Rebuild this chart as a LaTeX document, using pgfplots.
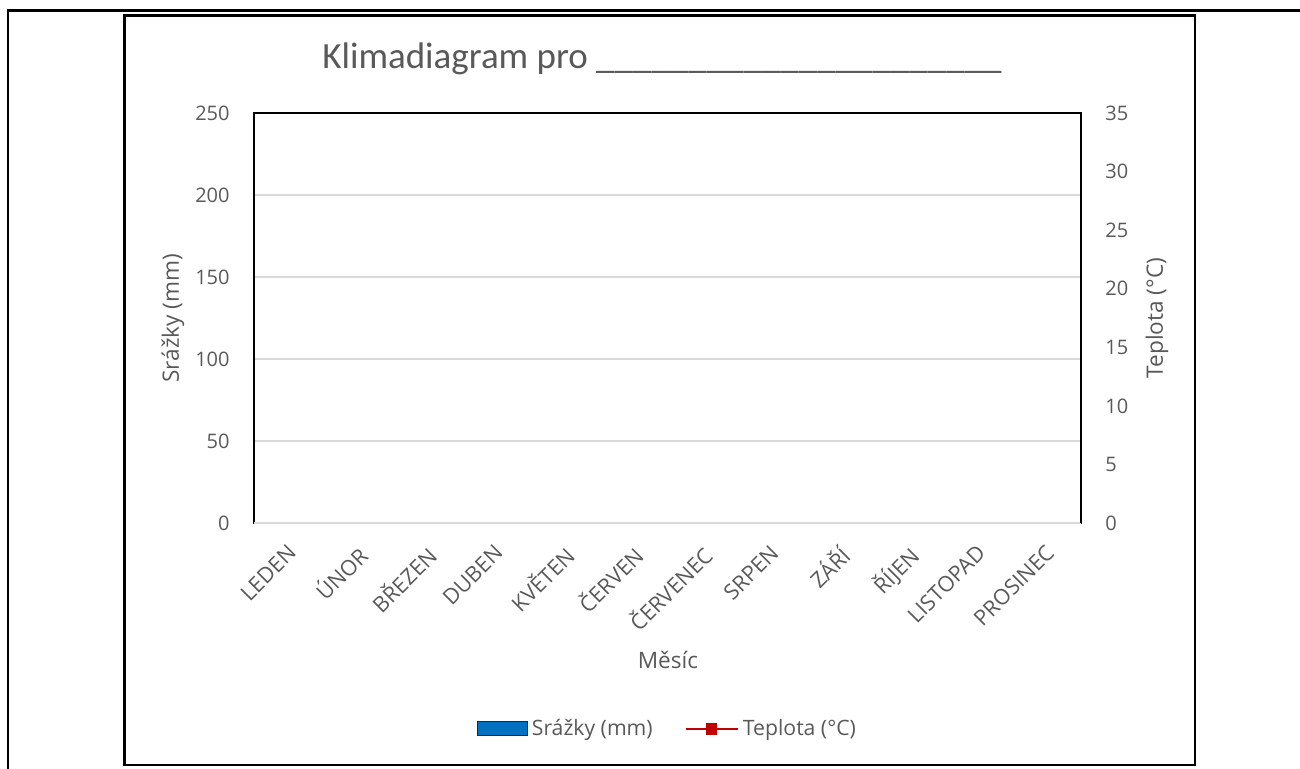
\documentclass[border=0pt]{standalone}
\usepackage{pgfplots}
\pgfplotsset{compat=1.18}
\usepackage{fontspec}
\setmainfont{Open Sans}
\newfontfamily\titlefont{Carlito}
\definecolor{txt}{HTML}{595959}
\definecolor{gridc}{HTML}{D9D9D9}
\definecolor{barc}{HTML}{0070C0}
\definecolor{linec}{HTML}{C00000}
\begin{document}
\begin{tikzpicture}[x=0.5pt,y=-0.5pt]
\path[use as bounding box] (0,0) rectangle (1300,769);
\coordinate (O) at (254,523);
\draw[line width=1.4pt] (8,769) -- (8,10.5) -- (1300,10.5);
\draw[line width=1.1pt] (124.5,15.5) rectangle (1195,765);
\node[anchor=base, text=txt, font=\titlefont\fontsize{18.5pt}{20pt}\selectfont, inner sep=0pt] at (662,69)
  {Klimadiagram pro \_\_\_\_\_\_\_\_\_\_\_\_\_\_\_\_\_\_\_\_\_\_};
\begin{axis}[
  at={(O)}, anchor=south west, scale only axis,
  width=413.5pt, height=205pt,
  xmin=-0.5, xmax=11.5, ymin=0, ymax=250,
  xtick={0,...,11},
  xticklabels={LEDEN,ÚNOR,BŘEZEN,DUBEN,KVĚTEN,ČERVEN,ČERVENEC,SRPEN,ZÁŘÍ,ŘÍJEN,LISTOPAD,PROSINEC},
  ytick={0,50,...,250},
  major tick length=0pt,
  ymajorgrids, grid style={gridc, line width=0.6pt},
  axis line style={black, line width=0.9pt},
  yticklabel style={font=\fontsize{10pt}{12pt}\selectfont, text=txt, anchor=east, inner sep=0pt, xshift=-12pt},
  /pgf/number format/assume math mode=true,
  xticklabel style={font=\fontsize{10.8pt}{12pt}\selectfont, text=txt, yshift=-10pt, xshift=-1pt, rotate=45, anchor=north east, inner sep=0pt},
  label style={font=\fontsize{11.3pt}{13pt}\selectfont, text=txt},
  ylabel={Srážky (mm)},
  ylabel style={at={(axis description cs:-0.098,0.5)}, anchor=center},
  xlabel={Měsíc},
  xlabel style={at={(axis description cs:0.5006,-0.334)}, anchor=center},
  legend style={at={(axis description cs:0.501,-0.502)}, anchor=center, draw=none,
    font=\fontsize{10.6pt}{12pt}\selectfont, text=txt, legend columns=2,
    /tikz/every even column/.append style={column sep=14pt}},
  legend cell align=left,
]
\addlegendimage{legend image code/.code={\draw[fill=barc, draw=black!85, line width=0.6pt] (0pt,-3.5pt) rectangle (25pt,3.5pt);}}
\addlegendentry{Srážky (mm)}
\addlegendimage{legend image code/.code={\draw[linec, line width=1.1pt] (0pt,0pt) -- (26pt,0pt);
  \fill[linec] (10.5pt,-2.6pt) rectangle (15.5pt,2.6pt);}}
\addlegendentry{Teplota (°C)}
\draw[gridc, line width=1pt] (rel axis cs:0,0) -- (rel axis cs:1,0);
\end{axis}
\begin{axis}[
  at={(O)}, anchor=south west, scale only axis,
  width=413.5pt, height=205pt,
  xmin=-0.5, xmax=11.5, ymin=0, ymax=35,
  axis x line=none, axis y line*=right,
  ytick={0,5,...,35},
  major tick length=0pt,
  axis line style={black, line width=0.9pt},
  /pgf/number format/assume math mode=true,
  yticklabel style={font=\fontsize{10pt}{12pt}\selectfont, text=txt, anchor=west, inner sep=0pt, xshift=12pt},
  label style={font=\fontsize{11.3pt}{13pt}\selectfont, text=txt},
  ylabel={Teplota (°C)},
  ylabel style={at={(axis description cs:1.092,0.5)}, anchor=center, rotate=0},
]
\end{axis}
\end{tikzpicture}
\end{document}
